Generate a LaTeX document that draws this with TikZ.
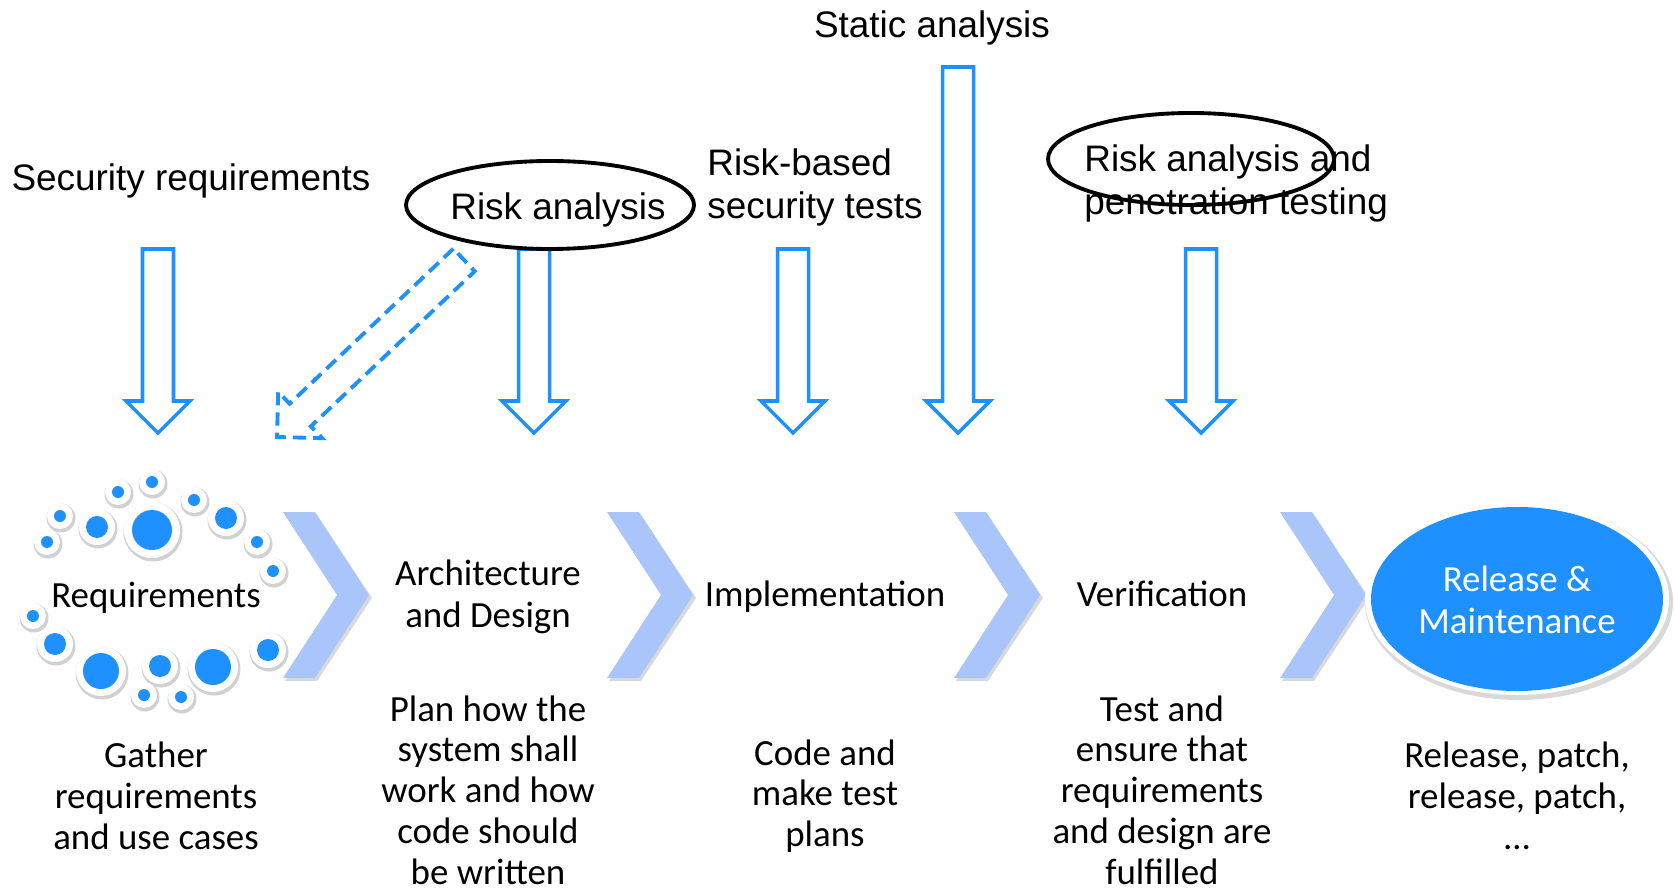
\documentclass[tikz,border=0pt]{standalone}
\usepackage{fontspec}
\setmainfont{Carlito}
\newfontfamily\arialf{Liberation Sans}
\usetikzlibrary{shapes.geometric}
\definecolor{dodger}{RGB}{30,144,255}
\definecolor{chevblue}{RGB}{169,197,250}
\newcommand\mydot[4]{%
  \fill[black!18] (#1+1,#2+2) circle [radius=#4+1.5];
  \fill[white] (#1,#2) circle [radius=#4];
  \fill[dodger] (#1,#2) circle [radius=#3];}
\newcommand\mychev[1]{%
  \fill[black!15] (#1+2,515) -- (#1+34,515) -- (#1+89,598) -- (#1+34,681) -- (#1+2,681) -- (#1+57,598) -- cycle;
  \fill[chevblue] (#1,512) -- (#1+32,512) -- (#1+86,595) -- (#1+32,678) -- (#1,678) -- (#1+54,595) -- cycle;}
\newcommand\myvarrow[3]{%
  \draw[barrow] (#1-15.5,#2) -- (#1-15.5,#3-32) -- (#1-32,#3-32) -- (#1,#3) -- (#1+32,#3-32) -- (#1+15.5,#3-32) -- (#1+15.5,#2) -- cycle;}
\begin{document}
\begin{tikzpicture}[x=0.02cm,y=-0.02cm,
  al/.style={font=\arialf\fontsize{21}{24.5}\selectfont, inner sep=0pt},
  cl/.style={font=\fontsize{21}{23.6}\selectfont, align=center, inner sep=0pt},
  dl/.style={font=\fontsize{21}{23.2}\selectfont, align=center, inner sep=0pt},
  barrow/.style={draw=dodger, line width=2pt, fill=white, line join=miter},
  ringline/.style={draw=black, line width=2.2pt}]
\useasboundingbox (0,0) rectangle (1675,891);

% chevrons
\mychev{283}
\mychev{607}
\mychev{954}
\mychev{1280}

% requirements dots
\mydot{152}{482}{6}{13}
\mydot{118}{492}{6}{13}
\mydot{60}{516}{6}{13}
\mydot{47}{542}{6}{13}
\mydot{97}{527}{11}{18}
\mydot{152}{530}{20}{28}
\mydot{194}{500}{6}{13}
\mydot{226}{518}{11}{18}
\mydot{257}{542}{6}{13}
\mydot{273}{571}{6}{13}
\mydot{33}{616}{6}{13}
\mydot{55}{644}{11}{18}
\mydot{101}{671}{18}{25}
\mydot{160}{666}{11}{18}
\mydot{213}{667}{18}{25}
\mydot{268}{650}{11}{18}
\mydot{144}{695}{6}{13}
\mydot{181}{697}{6}{13}

% release ellipse
\fill[black!15] (1519,602) ellipse [x radius=154, y radius=98];
\fill[white] (1517,599) ellipse [x radius=152, y radius=96];
\fill[dodger] (1517,599) ellipse [x radius=146, y radius=92];

% block arrows
\myvarrow{158}{249}{433}
\myvarrow{534}{249}{433}
\myvarrow{793}{249}{433}
\myvarrow{958}{67}{433}
\myvarrow{1201}{249}{433}
\draw[draw=dodger, line width=2.2pt, dash pattern=on 7.5pt off 4pt, line join=miter]
  (453.4,248.7) -- (289.6,403.7) -- (278.2,391.8) -- (277,437) -- (322.2,438.2) -- (310.9,426.3) -- (474.7,271.3) -- cycle;

% top labels
\node[al] (secreq) at (191,181) {Security requirements};
\node[al] (risk1) at (558,210) {Risk analysis};
\draw[ringline] (550,205) ellipse [x radius=144, y radius=44];
\node[al, align=left, anchor=west] (riskbased) at (707,187) {Risk-based\\security tests};
\node[al] (static) at (932,28) {Static analysis};
\node[al, align=left, anchor=west] (riskpen) at (1084,183) {Risk analysis and\\penetration testing};
\draw[ringline] (1191,159) ellipse [x radius=143, y radius=46];

% phase labels
\node[cl] (req) at (156,598) {Requirements};
\node[cl] (arch) at (488,597) {Architecture\\and Design};
\node[cl] (impl) at (825,597) {Implementation};
\node[cl] (verif) at (1162,594) {Verification};
\node[cl, text=white] (rel) at (1517,600) {Release \&\\Maintenance};

% descriptions
\node[dl] (d1) at (156,796) {Gather\\requirements\\and use cases};
\node[dl] (d2) at (488,790) {Plan how the\\system shall\\work and how\\code should\\be written};
\node[dl] (d3) at (825,796) {Code and\\make test\\plans};
\node[dl] (d4) at (1162,790) {Test and\\ensure that\\requirements\\and design are\\fulfilled};
\node[dl] (d5) at (1517,796) {Release, patch,\\release, patch,\\…};
\end{tikzpicture}
\end{document}
